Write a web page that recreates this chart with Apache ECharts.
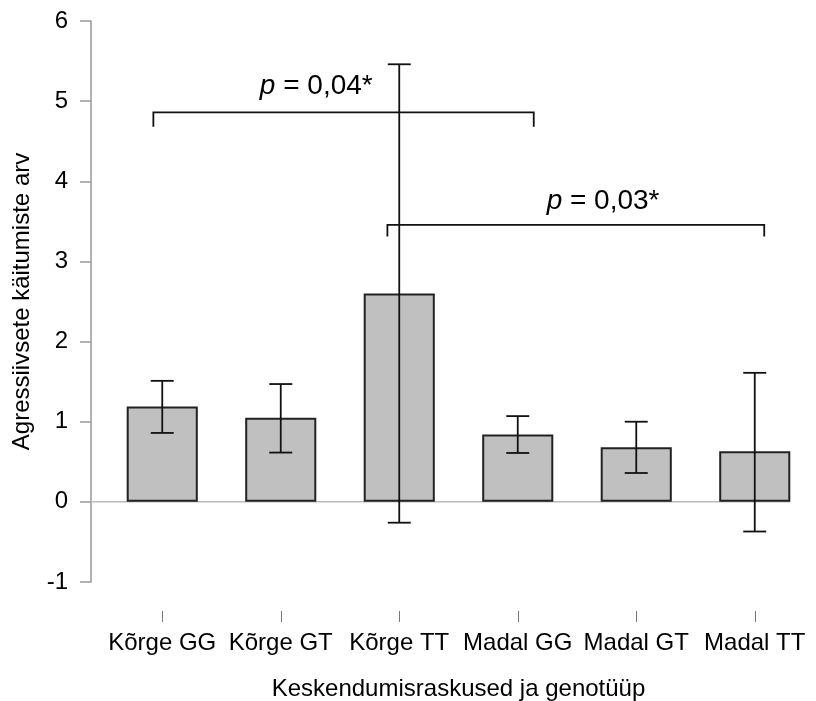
<!DOCTYPE html>
<html>
<head>
<meta charset="utf-8">
<script src="https://cdn.jsdelivr.net/npm/echarts@6/dist/echarts.min.js"></script>
<style>html,body{margin:0;padding:0;background:#fff;overflow:hidden;}#c{width:816px;height:701px;}</style>
</head>
<body>
<div id="c"></div>
<script>
const categories = ['Kõrge GG', 'Kõrge GT', 'Kõrge TT', 'Madal GG', 'Madal GT', 'Madal TT'];
const means = [1.19, 1.05, 2.60, 0.84, 0.68, 0.63];
const errLow = [0.86, 0.615, -0.26, 0.61, 0.36, -0.37];
const errHigh = [1.51, 1.47, 5.46, 1.07, 1.00, 1.61];
const yMin = -1, yMax = 6, yStep = 1;
// significance brackets (x in category-index units)
const bracketStart = [-0.075, 1.90];
const bracketEnd = [3.135, 5.08];
const bracketLevel = [4.86, 3.455];
const bracketDrop = [4.68, 3.31];
const pValues = ['0,04*', '0,03*'];
const pLabelX = [1.30, 3.72];
const pLabelY = [5.19, 3.75];

const FONT = '"Liberation Sans", Arial, sans-serif';
const chart = echarts.init(document.getElementById('c'));

const errData = categories.map((c, i) => [i, errLow[i], errHigh[i]]);
const bracketData = bracketStart.map((s, i) => [0, s, bracketEnd[i], bracketLevel[i], bracketDrop[i], pLabelX[i], pLabelY[i], i]);

chart.setOption({
  animation: false,
  backgroundColor: '#fff',
  grid: { left: 103, right: 2, top: 21, bottom: 119, outerBoundsMode: 'none', containLabel: false },
  xAxis: {
    type: 'category',
    data: categories,
    offset: 29,
    axisLine: { show: false, onZero: false },
    axisTick: { show: true, alignWithLabel: true, length: 11, lineStyle: { color: '#777', width: 1 } },
    axisLabel: { margin: 20, fontSize: 24, color: '#000', fontFamily: FONT, interval: 0 },
    name: 'Keskendumisraskused ja genotüüp',
    nameLocation: 'middle',
    nameGap: 66,
    nameTextStyle: { fontSize: 24, color: '#000', fontFamily: FONT },
    splitLine: { show: false }
  },
  yAxis: {
    type: 'value',
    min: yMin, max: yMax, interval: yStep,
    offset: 12,
    axisLine: { show: true, lineStyle: { color: '#999', width: 1.5 } },
    axisTick: { show: true, length: 11, lineStyle: { color: '#999', width: 1.5 } },
    axisLabel: { margin: 23, fontSize: 24, color: '#000', fontFamily: FONT },
    splitLine: { show: false },
    name: 'Agressiivsete käitumiste arv',
    nameLocation: 'middle',
    nameGap: 57,
    nameTextStyle: { fontSize: 24, color: '#000', fontFamily: FONT }
  },
  series: [
    {
      type: 'custom',
      z: 1,
      data: [[0, 0]],
      renderItem: function (params, api) {
        const bw = api.size([1, 0])[0];
        const p0 = api.coord([0, 0]);
        const pl = api.coord([categories.length - 1, 0]);
        return {
          type: 'line',
          shape: { x1: params.coordSys.x - 12, y1: p0[1], x2: pl[0] + bw * 0.3, y2: p0[1] },
          style: { stroke: '#bbb', lineWidth: 1.5 }
        };
      }
    },
    {
      type: 'bar',
      z: 2,
      data: means,
      barWidth: '60%',
      itemStyle: { color: '#c0c0c0', borderColor: '#222', borderWidth: 2 }
    },
    {
      type: 'custom',
      z: 3,
      data: errData,
      renderItem: function (params, api) {
        const i = api.value(0);
        const lo = api.coord([i, api.value(1)]);
        const hi = api.coord([i, api.value(2)]);
        const cap = api.size([1, 0])[0] * 0.097;
        const st = { stroke: '#111', lineWidth: 1.8 };
        return {
          type: 'group',
          children: [
            { type: 'line', shape: { x1: lo[0], y1: lo[1], x2: hi[0], y2: hi[1] }, style: st },
            { type: 'line', shape: { x1: lo[0] - cap, y1: lo[1], x2: lo[0] + cap, y2: lo[1] }, style: st },
            { type: 'line', shape: { x1: hi[0] - cap, y1: hi[1], x2: hi[0] + cap, y2: hi[1] }, style: st }
          ]
        };
      }
    },
    {
      type: 'custom',
      z: 4,
      data: bracketData,
      renderItem: function (params, api) {
        const bw = api.size([1, 0])[0];
        const base = api.coord([0, api.value(3)]);
        const drop = api.coord([0, api.value(4)]);
        const x0 = base[0] + api.value(1) * bw;
        const x1 = base[0] + api.value(2) * bw;
        const lab = api.coord([0, api.value(6)]);
        const lx = lab[0] + api.value(5) * bw;
        const idx = api.value(7);
        return {
          type: 'group',
          children: [
            {
              type: 'polyline',
              shape: { points: [[x0, drop[1]], [x0, base[1]], [x1, base[1]], [x1, drop[1]]] },
              style: { stroke: '#111', lineWidth: 1.8, fill: null }
            },
            {
              type: 'text',
              x: lx, y: lab[1],
              style: {
                text: '{i|p} = ' + pValues[idx],
                fontSize: 28, fontFamily: FONT, fill: '#000',
                align: 'center', verticalAlign: 'middle',
                rich: { i: { fontStyle: 'italic', fontSize: 28, fontFamily: FONT, fill: '#000' } }
              }
            }
          ]
        };
      }
    }
  ]
});
</script>
</body>
</html>
